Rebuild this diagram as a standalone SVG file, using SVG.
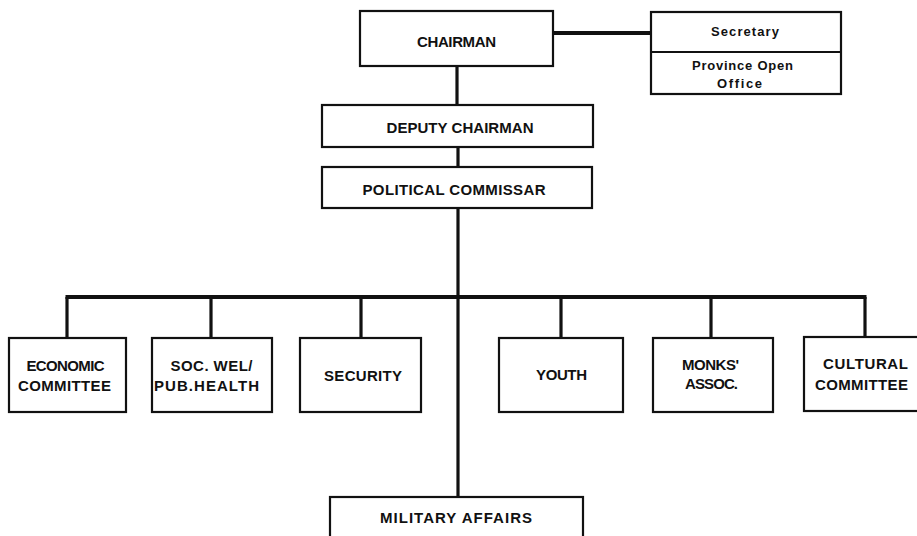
<svg xmlns="http://www.w3.org/2000/svg" width="917" height="536" viewBox="0 0 917 536">
  <style>
    .box { fill: #ffffff; stroke: #111111; stroke-width: 2.2; }
    .wire { stroke: #111111; fill: none; stroke-linecap: butt; }
    .thick { stroke-width: 4; }
    .mid { stroke-width: 3.2; }
    .lbl { font-family: "Liberation Sans", Arial, sans-serif; font-weight: bold; font-size: 15px; fill: #111111; text-anchor: middle; }
    .small { font-size: 13px; }
  </style>
  <rect x="0" y="0" width="917" height="536" fill="#ffffff"/>

  <!-- connectors -->
  <g id="connectors">
    <line class="wire thick" x1="553" y1="33" x2="651" y2="33"/>
    <line class="wire mid" x1="457" y1="66" x2="457" y2="105"/>
    <line class="wire mid" x1="458" y1="147" x2="458" y2="167"/>
    <line class="wire mid" x1="458" y1="208" x2="458" y2="497"/>
    <line class="wire thick" x1="65.5" y1="297" x2="866.5" y2="297"/>
    <line class="wire mid" x1="67" y1="297" x2="67" y2="338"/>
    <line class="wire mid" x1="211" y1="297" x2="211" y2="338"/>
    <line class="wire mid" x1="361" y1="297" x2="361" y2="338"/>
    <line class="wire mid" x1="561" y1="297" x2="561" y2="338"/>
    <line class="wire mid" x1="711" y1="297" x2="711" y2="338"/>
    <line class="wire mid" x1="865" y1="297" x2="865" y2="338"/>
  </g>

  <g id="chairman">
    <rect class="box" x="360" y="11" width="193" height="55"/>
    <text class="lbl" x="456.5" y="46.5" textLength="79" lengthAdjust="spacing">CHAIRMAN</text>
  </g>

  <g id="secretary">
    <rect class="box" x="651" y="12" width="190" height="82"/>
    <line class="wire" stroke-width="2.2" x1="651" y1="52" x2="841" y2="52"/>
    <text class="lbl small" x="745" y="36" textLength="68" lengthAdjust="spacing">Secretary</text>
    <text class="lbl small" x="742.5" y="70" textLength="101" lengthAdjust="spacing">Province Open</text>
    <text class="lbl small" x="739.5" y="88" textLength="45" lengthAdjust="spacing">Office</text>
  </g>

  <g id="deputy-chairman">
    <rect class="box" x="322" y="105" width="271" height="42"/>
    <text class="lbl" x="460" y="132.5" textLength="147" lengthAdjust="spacing">DEPUTY CHAIRMAN</text>
  </g>

  <g id="political-commissar">
    <rect class="box" x="322" y="167" width="270" height="41"/>
    <text class="lbl" x="454" y="194.5" textLength="183" lengthAdjust="spacing">POLITICAL COMMISSAR</text>
  </g>

  <g id="economic-committee">
    <rect class="box" x="9" y="338" width="117" height="74"/>
    <text class="lbl" x="65.5" y="371" textLength="78" lengthAdjust="spacing">ECONOMIC</text>
    <text class="lbl" x="64.5" y="391" textLength="93" lengthAdjust="spacing">COMMITTEE</text>
  </g>

  <g id="soc-wel-pub-health">
    <rect class="box" x="152" y="338" width="120" height="74"/>
    <text class="lbl" x="211.5" y="371" textLength="82" lengthAdjust="spacing">SOC. WEL/</text>
    <text class="lbl" x="206.5" y="391" textLength="105" lengthAdjust="spacing">PUB.HEALTH</text>
  </g>

  <g id="security">
    <rect class="box" x="300" y="338" width="121" height="74"/>
    <text class="lbl" x="363" y="381" textLength="78" lengthAdjust="spacing">SECURITY</text>
  </g>

  <g id="youth">
    <rect class="box" x="499" y="338" width="124" height="74"/>
    <text class="lbl" x="561.5" y="380" textLength="51" lengthAdjust="spacing">YOUTH</text>
  </g>

  <g id="monks-assoc">
    <rect class="box" x="653" y="338" width="120" height="74"/>
    <text class="lbl" x="710.5" y="370" textLength="57" lengthAdjust="spacing">MONKS'</text>
    <text class="lbl" x="711.5" y="389" textLength="53" lengthAdjust="spacing">ASSOC.</text>
  </g>

  <g id="cultural-committee">
    <rect class="box" x="804" y="337" width="122" height="74"/>
    <text class="lbl" x="865.5" y="369" textLength="85" lengthAdjust="spacing">CULTURAL</text>
    <text class="lbl" x="861.5" y="390" textLength="93" lengthAdjust="spacing">COMMITTEE</text>
  </g>

  <g id="military-affairs">
    <rect class="box" x="330" y="497" width="253" height="50"/>
    <text class="lbl" x="456" y="523" textLength="152" lengthAdjust="spacing">MILITARY AFFAIRS</text>
  </g>
</svg>
